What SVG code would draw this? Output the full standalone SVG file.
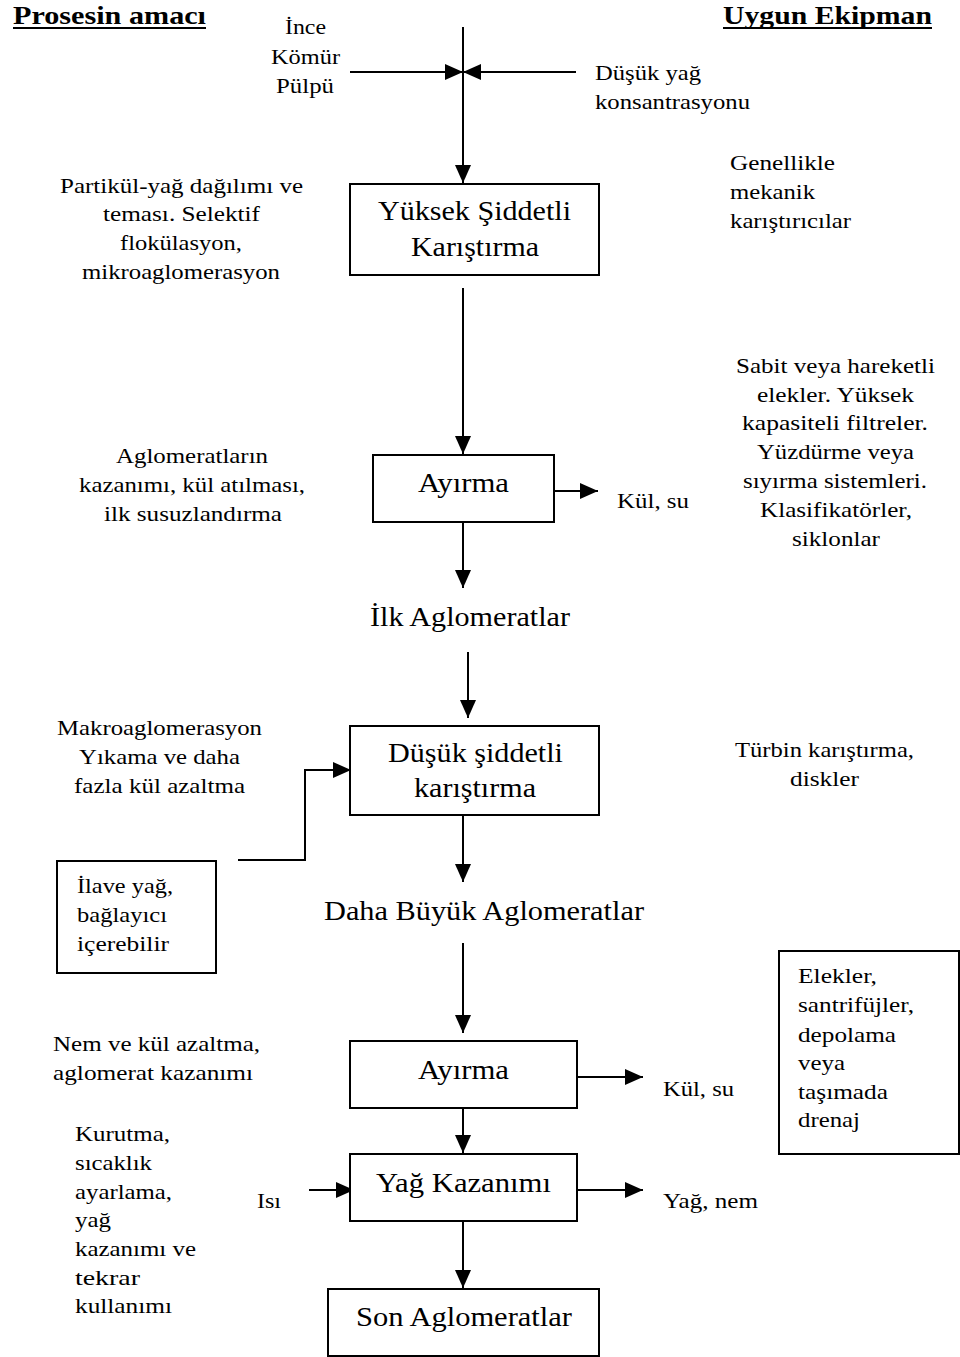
<svg xmlns="http://www.w3.org/2000/svg" width="960" height="1357" viewBox="0 0 960 1357">
<style>
text{font-family:"Liberation Serif","Times New Roman",serif;fill:#000}
.s{font-size:22px}
.b{font-size:27px}
.h{font-size:25px;font-weight:bold}
.box{fill:#fff;stroke:#000;stroke-width:2}
.c{fill:none;stroke:#000;stroke-width:2}
</style>
<defs>
<marker id="ah" markerUnits="userSpaceOnUse" markerWidth="20" markerHeight="18" refX="18" refY="8" orient="auto">
<path d="M0,0 L18,8 L0,16 Z" fill="#000"/>
</marker>
</defs>
<rect width="960" height="1357" fill="#fff"/>
<g id="headers">
<text class="h" x="13" y="24" textLength="193" lengthAdjust="spacingAndGlyphs">Prosesin amacı</text>
<line x1="13" y1="28" x2="206" y2="28" stroke="#000" stroke-width="2"/>
<text class="h" x="723" y="24" textLength="209" lengthAdjust="spacingAndGlyphs">Uygun Ekipman</text>
<line x1="723" y1="28" x2="932" y2="28" stroke="#000" stroke-width="2"/>
</g>
<g id="connectors">
<line class="c" x1="463" y1="27" x2="463" y2="183" marker-end="url(#ah)"/>
<line class="c" x1="350" y1="72" x2="463" y2="72" marker-end="url(#ah)"/>
<line class="c" x1="576" y1="72" x2="463" y2="72" marker-end="url(#ah)"/>
<line class="c" x1="463" y1="288" x2="463" y2="454" marker-end="url(#ah)"/>
<line class="c" x1="554" y1="491" x2="598" y2="491" marker-end="url(#ah)"/>
<line class="c" x1="463" y1="522" x2="463" y2="588" marker-end="url(#ah)"/>
<line class="c" x1="468" y1="652" x2="468" y2="718" marker-end="url(#ah)"/>
<polyline class="c" points="238,860 305,860 305,770 351,770" marker-end="url(#ah)"/>
<line class="c" x1="463" y1="815" x2="463" y2="882" marker-end="url(#ah)"/>
<line class="c" x1="463" y1="943" x2="463" y2="1033" marker-end="url(#ah)"/>
<line class="c" x1="577" y1="1077" x2="643" y2="1077" marker-end="url(#ah)"/>
<line class="c" x1="463" y1="1108" x2="463" y2="1153" marker-end="url(#ah)"/>
<line class="c" x1="309" y1="1190" x2="354" y2="1190" marker-end="url(#ah)"/>
<line class="c" x1="577" y1="1190" x2="643" y2="1190" marker-end="url(#ah)"/>
<line class="c" x1="463" y1="1221" x2="463" y2="1288" marker-end="url(#ah)"/>
</g>
<g id="input-labels">
<text class="s" x="285" y="34" textLength="41" lengthAdjust="spacingAndGlyphs">İnce</text>
<text class="s" x="271" y="64" textLength="69" lengthAdjust="spacingAndGlyphs">Kömür</text>
<text class="s" x="276" y="93" textLength="58" lengthAdjust="spacingAndGlyphs">Pülpü</text>
<text class="s" x="595" y="80" textLength="106" lengthAdjust="spacingAndGlyphs">Düşük yağ</text>
<text class="s" x="595" y="109" textLength="155" lengthAdjust="spacingAndGlyphs">konsantrasyonu</text>
</g>
<g id="node-yuksek">
<rect class="box" x="350" y="184" width="249" height="91"/>
<text class="b" x="378" y="220" textLength="193" lengthAdjust="spacingAndGlyphs">Yüksek Şiddetli</text>
<text class="b" x="411" y="256" textLength="128" lengthAdjust="spacingAndGlyphs">Karıştırma</text>
</g>
<g id="purpose-1">
<text class="s" x="60" y="193" textLength="243" lengthAdjust="spacingAndGlyphs">Partikül-yağ dağılımı ve</text>
<text class="s" x="103" y="221" textLength="157" lengthAdjust="spacingAndGlyphs">teması. Selektif</text>
<text class="s" x="120" y="250" textLength="122" lengthAdjust="spacingAndGlyphs">flokülasyon,</text>
<text class="s" x="82" y="279" textLength="198" lengthAdjust="spacingAndGlyphs">mikroaglomerasyon</text>
</g>
<g id="equip-1">
<text class="s" x="730" y="170" textLength="105" lengthAdjust="spacingAndGlyphs">Genellikle</text>
<text class="s" x="730" y="199" textLength="85" lengthAdjust="spacingAndGlyphs">mekanik</text>
<text class="s" x="730" y="228" textLength="121" lengthAdjust="spacingAndGlyphs">karıştırıcılar</text>
</g>
<g id="node-ayirma-1">
<rect class="box" x="373" y="455" width="181" height="67"/>
<text class="b" x="418" y="492" textLength="91" lengthAdjust="spacingAndGlyphs">Ayırma</text>
</g>
<g id="out-1">
<text class="s" x="617" y="508" textLength="72" lengthAdjust="spacingAndGlyphs">Kül, su</text>
</g>
<g id="purpose-2">
<text class="s" x="116" y="463" textLength="152" lengthAdjust="spacingAndGlyphs">Aglomeratların</text>
<text class="s" x="79" y="492" textLength="226" lengthAdjust="spacingAndGlyphs">kazanımı, kül atılması,</text>
<text class="s" x="104" y="521" textLength="178" lengthAdjust="spacingAndGlyphs">ilk susuzlandırma</text>
</g>
<g id="equip-2">
<text class="s" x="736" y="373" textLength="199" lengthAdjust="spacingAndGlyphs">Sabit veya hareketli</text>
<text class="s" x="757" y="402" textLength="157" lengthAdjust="spacingAndGlyphs">elekler. Yüksek</text>
<text class="s" x="742" y="430" textLength="186" lengthAdjust="spacingAndGlyphs">kapasiteli filtreler.</text>
<text class="s" x="757" y="459" textLength="157" lengthAdjust="spacingAndGlyphs">Yüzdürme veya</text>
<text class="s" x="743" y="488" textLength="184" lengthAdjust="spacingAndGlyphs">sıyırma sistemleri.</text>
<text class="s" x="760" y="517" textLength="152" lengthAdjust="spacingAndGlyphs">Klasifikatörler,</text>
<text class="s" x="792" y="546" textLength="88" lengthAdjust="spacingAndGlyphs">siklonlar</text>
</g>
<g id="node-ilk">
<text class="b" x="370" y="626" textLength="200" lengthAdjust="spacingAndGlyphs">İlk Aglomeratlar</text>
</g>
<g id="node-dusuk">
<rect class="box" x="350" y="726" width="249" height="89"/>
<text class="b" x="388" y="762" textLength="175" lengthAdjust="spacingAndGlyphs">Düşük şiddetli</text>
<text class="b" x="414" y="797" textLength="122" lengthAdjust="spacingAndGlyphs">karıştırma</text>
</g>
<g id="purpose-3">
<text class="s" x="57" y="735" textLength="205" lengthAdjust="spacingAndGlyphs">Makroaglomerasyon</text>
<text class="s" x="79" y="764" textLength="161" lengthAdjust="spacingAndGlyphs">Yıkama ve daha</text>
<text class="s" x="74" y="793" textLength="171" lengthAdjust="spacingAndGlyphs">fazla kül azaltma</text>
</g>
<g id="equip-3">
<text class="s" x="735" y="757" textLength="179" lengthAdjust="spacingAndGlyphs">Türbin karıştırma,</text>
<text class="s" x="790" y="786" textLength="69" lengthAdjust="spacingAndGlyphs">diskler</text>
</g>
<g id="node-ilave">
<rect class="box" x="57" y="861" width="159" height="112"/>
<text class="s" x="77" y="893" textLength="96" lengthAdjust="spacingAndGlyphs">İlave yağ,</text>
<text class="s" x="77" y="922" textLength="90" lengthAdjust="spacingAndGlyphs">bağlayıcı</text>
<text class="s" x="77" y="951" textLength="92" lengthAdjust="spacingAndGlyphs">içerebilir</text>
</g>
<g id="node-daha">
<text class="b" x="324" y="920" textLength="320" lengthAdjust="spacingAndGlyphs">Daha Büyük Aglomeratlar</text>
</g>
<g id="node-ayirma-2">
<rect class="box" x="350" y="1041" width="227" height="67"/>
<text class="b" x="418" y="1079" textLength="91" lengthAdjust="spacingAndGlyphs">Ayırma</text>
</g>
<g id="out-2">
<text class="s" x="663" y="1096" textLength="71" lengthAdjust="spacingAndGlyphs">Kül, su</text>
</g>
<g id="purpose-4">
<text class="s" x="53" y="1051" textLength="207" lengthAdjust="spacingAndGlyphs">Nem ve kül azaltma,</text>
<text class="s" x="53" y="1080" textLength="200" lengthAdjust="spacingAndGlyphs">aglomerat kazanımı</text>
</g>
<g id="node-elekler">
<rect class="box" x="779" y="951" width="180" height="203"/>
<text class="s" x="798" y="983" textLength="79" lengthAdjust="spacingAndGlyphs">Elekler,</text>
<text class="s" x="798" y="1012" textLength="116" lengthAdjust="spacingAndGlyphs">santrifüjler,</text>
<text class="s" x="798" y="1042" textLength="98" lengthAdjust="spacingAndGlyphs">depolama</text>
<text class="s" x="798" y="1070" textLength="47" lengthAdjust="spacingAndGlyphs">veya</text>
<text class="s" x="798" y="1099" textLength="90" lengthAdjust="spacingAndGlyphs">taşımada</text>
<text class="s" x="798" y="1127" textLength="62" lengthAdjust="spacingAndGlyphs">drenaj</text>
</g>
<g id="node-yag">
<rect class="box" x="350" y="1154" width="227" height="67"/>
<text class="b" x="376" y="1192" textLength="175" lengthAdjust="spacingAndGlyphs">Yağ Kazanımı</text>
</g>
<g id="in-isi">
<text class="s" x="257" y="1208" textLength="24" lengthAdjust="spacingAndGlyphs">Isı</text>
</g>
<g id="out-3">
<text class="s" x="663" y="1208" textLength="95" lengthAdjust="spacingAndGlyphs">Yağ, nem</text>
</g>
<g id="purpose-5">
<text class="s" x="75" y="1141" textLength="95" lengthAdjust="spacingAndGlyphs">Kurutma,</text>
<text class="s" x="75" y="1170" textLength="77" lengthAdjust="spacingAndGlyphs">sıcaklık</text>
<text class="s" x="75" y="1199" textLength="97" lengthAdjust="spacingAndGlyphs">ayarlama,</text>
<text class="s" x="75" y="1227" textLength="36" lengthAdjust="spacingAndGlyphs">yağ</text>
<text class="s" x="75" y="1256" textLength="121" lengthAdjust="spacingAndGlyphs">kazanımı ve</text>
<text class="s" x="75" y="1285" textLength="65" lengthAdjust="spacingAndGlyphs">tekrar</text>
<text class="s" x="75" y="1313" textLength="97" lengthAdjust="spacingAndGlyphs">kullanımı</text>
</g>
<g id="node-son">
<rect class="box" x="328" y="1289" width="271" height="67"/>
<text class="b" x="356" y="1326" textLength="216" lengthAdjust="spacingAndGlyphs">Son Aglomeratlar</text>
</g>
</svg>
